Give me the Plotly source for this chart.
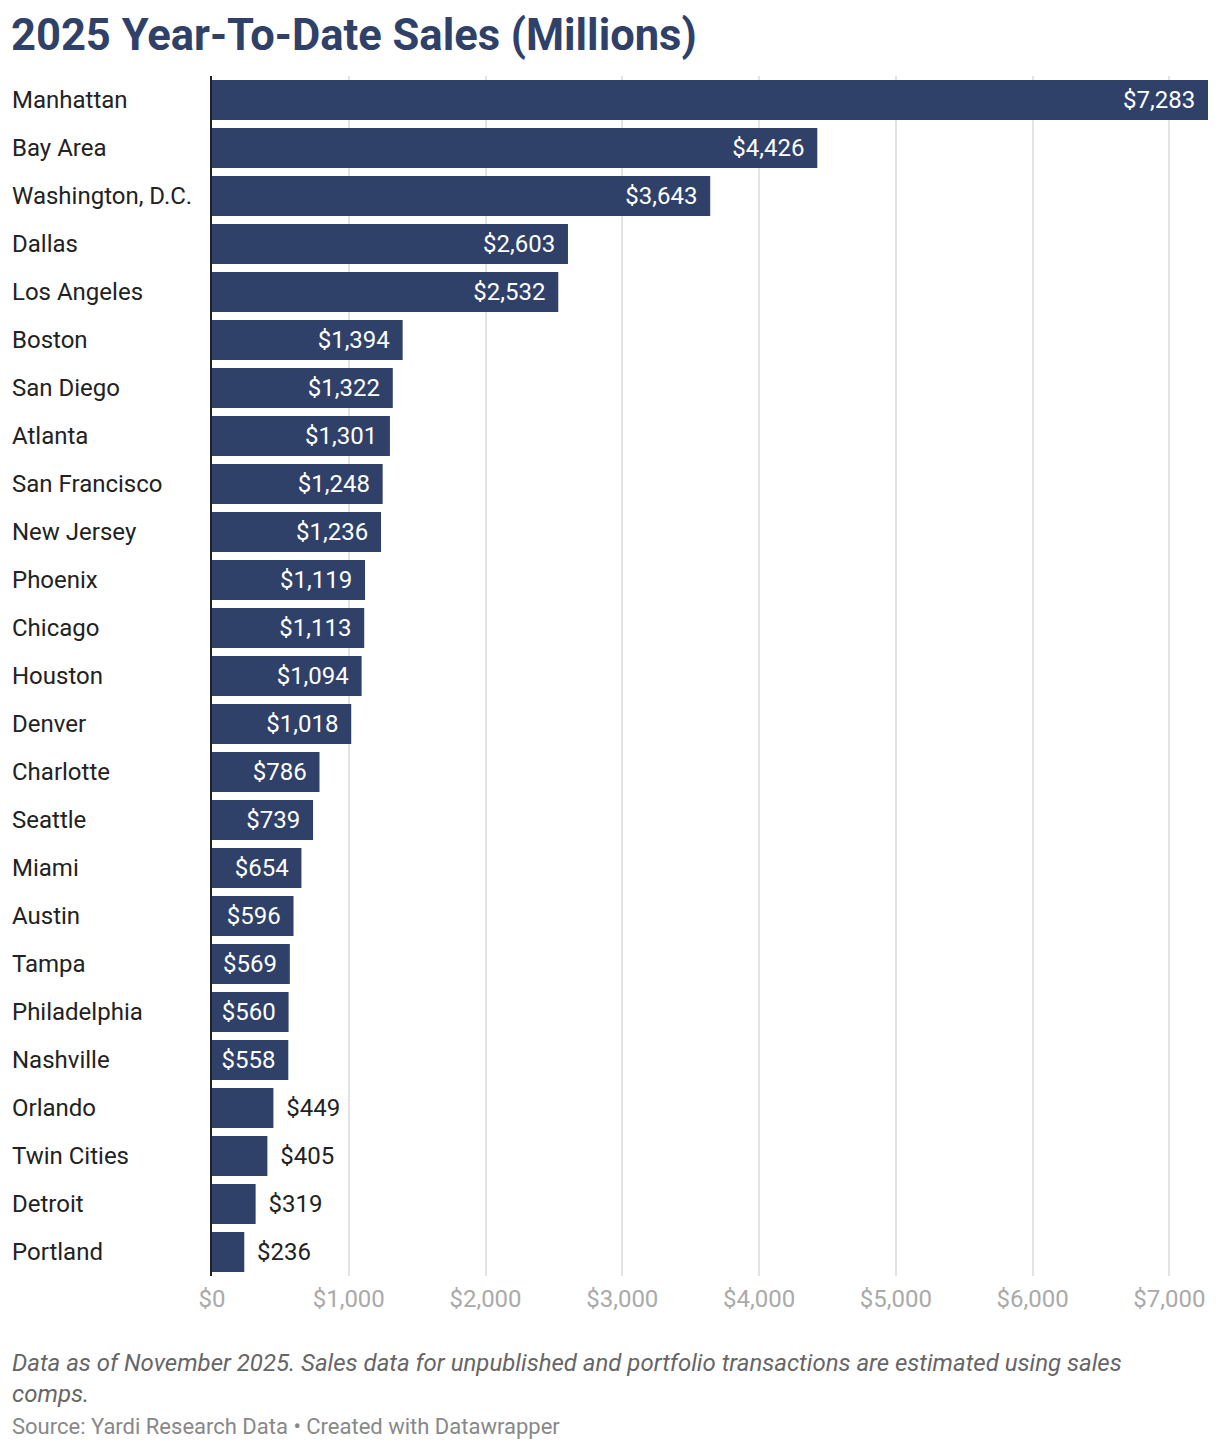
import plotly.graph_objects as go

markets = ["Manhattan", "Bay Area", "Washington, D.C.", "Dallas", "Los Angeles",
           "Boston", "San Diego", "Atlanta", "San Francisco", "New Jersey",
           "Phoenix", "Chicago", "Houston", "Denver", "Charlotte", "Seattle",
           "Miami", "Austin", "Tampa", "Philadelphia", "Nashville", "Orlando",
           "Twin Cities", "Detroit", "Portland"]
sales = [7283, 4426, 3643, 2603, 2532, 1394, 1322, 1301, 1248, 1236,
         1119, 1113, 1094, 1018, 786, 739, 654, 596, 569, 560, 558, 449,
         405, 319, 236]
tick_vals = [0, 1000, 2000, 3000, 4000, 5000, 6000, 7000]
tick_text = ["$" + format(v, ",") for v in tick_vals]

bar_color = "#2f4169"
# page has an 8px body margin, so the figure sits at (8, 8)
W, H = 1204, 1434
left, right, top, bottom = 204, 4, 68, 166
pw = W - left - right
ph = H - top - bottom

pad = "\u2009\u2009"
labels = []
positions = []
colors = []
for v in sales:
    s = "$" + format(v, ",")
    if v >= 500:
        labels.append(s + pad)
        positions.append("inside")
        colors.append("white")
    else:
        labels.append(pad + s)
        positions.append("outside")
        colors.append("#222222")

fig = go.Figure()
fig.add_trace(go.Bar(
    x=sales, y=markets, orientation="h",
    marker=dict(color=bar_color, line=dict(width=0)),
    text=labels, textposition=positions, insidetextanchor="end",
    textfont=dict(family="Roboto", size=24, color=colors),
    constraintext="none", cliponaxis=False, hoverinfo="skip",
))

# left-aligned market labels
for m in markets:
    fig.add_annotation(
        x=(2 - left) / pw, xref="paper", y=m, yref="y",
        text=m, showarrow=False, xanchor="left", yanchor="middle",
        font=dict(family="Roboto", size=24, color="#222222"),
    )

fig.add_annotation(
    x=(1 - left) / pw, xref="paper", y=1 + (top - 28) / ph, yref="paper",
    text="<b>2025 Year-To-Date Sales (Millions)</b>", showarrow=False,
    xanchor="left", yanchor="middle",
    font=dict(family="Roboto", size=43.5, color="#2f4169"),
)
fig.add_annotation(
    x=(2 - left) / pw, xref="paper", y=-(1362 - 1276 - 15) / ph, yref="paper",
    text="<i>Data as of November 2025. Sales data for unpublished and portfolio transactions are estimated using sales<br>comps.</i>",
    showarrow=False, xanchor="left", yanchor="top", align="left",
    font=dict(family="Roboto", size=24, color="#666666"),
)
fig.add_annotation(
    x=(2 - left) / pw, xref="paper", y=-(1426 - 1276) / ph, yref="paper",
    text="Source: Yardi Research Data • Created with Datawrapper",
    showarrow=False, xanchor="left", yanchor="middle",
    font=dict(family="Roboto", size=22, color="#888888"),
)

fig.update_layout(
    width=W, height=H,
    margin=dict(l=left, r=right, t=top, b=bottom),
    paper_bgcolor="white", plot_bgcolor="white",
    bargap=0.167, showlegend=False,
    font=dict(family="Roboto"),
    xaxis=dict(range=[0, 7283], tickvals=tick_vals, ticktext=tick_text,
               showgrid=True, gridcolor="#e3e3e3", gridwidth=2, zeroline=False,
               tickfont=dict(family="Roboto", size=24, color="#aaaaaa"),
               ticks="", ticklabelstandoff=6, fixedrange=True),
    yaxis=dict(autorange="reversed", showticklabels=False, ticks="",
               showline=True, linecolor="#222222", linewidth=2, fixedrange=True),
)

fig.write_html("out.html")
